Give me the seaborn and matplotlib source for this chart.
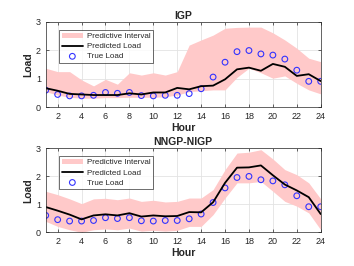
import numpy as np
import pandas as pd
import matplotlib
matplotlib.use("Agg")
import matplotlib.pyplot as plt
import seaborn as sns

hours = np.arange(1, 25)
true_load = [0.60, 0.45, 0.40, 0.40, 0.42, 0.52, 0.49, 0.52, 0.41, 0.40, 0.42, 0.42, 0.48, 0.65,
             1.06, 1.58, 1.95, 1.99, 1.87, 1.83, 1.69, 1.30, 0.91, 0.91]

# IGP
igp_pred = [0.67, 0.58, 0.47, 0.45, 0.43, 0.43, 0.43, 0.49, 0.45, 0.52, 0.52, 0.68, 0.63, 0.74,
            0.76, 0.98, 1.33, 1.39, 1.28, 1.52, 1.42, 1.10, 1.16, 0.92]
igp_up = [1.37, 1.25, 1.25, 0.96, 0.75, 0.98, 0.81, 1.21, 1.13, 1.21, 1.13, 1.25, 2.18, 2.36,
          2.53, 2.77, 2.80, 2.81, 2.81, 2.61, 2.36, 2.07, 1.72, 1.60]
igp_lo = [0.55, 0.43, 0.35, 0.32, 0.32, 0.34, 0.34, 0.35, 0.35, 0.35, 0.37, 0.43, 0.55, 0.58,
          0.61, 0.61, 1.05, 1.37, 1.21, 1.02, 1.10, 0.84, 0.61, 0.47]

# NNGP-NIGP
nn_pred = [0.90, 0.77, 0.63, 0.46, 0.60, 0.64, 0.60, 0.68, 0.56, 0.60, 0.57, 0.58, 0.72, 0.71,
           1.07, 1.76, 2.30, 2.31, 2.38, 2.03, 1.70, 1.49, 1.25, 0.65]
nn_up = [1.46, 1.34, 1.19, 1.02, 1.19, 1.21, 1.16, 1.22, 1.10, 1.14, 1.08, 1.10, 1.22, 1.22,
         1.52, 2.23, 2.82, 2.85, 2.94, 2.61, 2.23, 2.05, 1.76, 1.19]
nn_lo = [0.39, 0.21, 0.09, 0.00, 0.09, 0.12, 0.09, 0.15, 0.04, 0.07, 0.04, 0.07, 0.21, 0.21,
         0.63, 1.22, 1.76, 1.76, 1.81, 1.46, 1.10, 0.93, 0.69, 0.09]

sns.set_style("ticks")
plt.rcParams['font.family'] = ['Liberation Sans', 'DejaVu Sans']

fig = plt.figure(figsize=(3.54, 2.66), dpi=100)
panels = [("IGP", igp_pred, igp_up, igp_lo, [45.7, 21.7, 320.7, 107.3]),
          ("NNGP-NIGP", nn_pred, nn_up, nn_lo, [45.7, 148.0, 320.7, 232.3])]

for title, pred, up, lo, box in panels:
    l, t, r, b = box
    ax = fig.add_axes([l / 354, 1 - b / 266, (r - l) / 354, (b - t) / 266])
    df = pd.DataFrame({"Hour": hours, "pred": pred, "true": true_load})
    ax.fill_between(hours, lo, up, color="#FFC9C9", linewidth=0, label="Predictive Interval")
    sns.lineplot(data=df, x="Hour", y="pred", ax=ax, color="black", linewidth=1.3,
                 label="Predicted Load")
    sns.scatterplot(data=df, x="Hour", y="true", ax=ax, marker="o", s=17,
                    facecolors="none", edgecolor="#3333FF", linewidth=0.8, label="True Load")
    ax.set_xlim(1, 24)
    ax.set_ylim(0, 3)
    ax.set_xticks(range(2, 25, 2))
    ax.set_yticks([0, 1, 2, 3])
    ax.grid(True, color="#E3E3E3", linewidth=0.6)
    ax.set_axisbelow(True)
    ax.tick_params(direction="in", labelsize=6.5, length=2, width=0.5, colors="#262626",
                   top=True, right=True)
    for s in ax.spines.values():
        s.set_linewidth(0.5)
        s.set_color("#262626")
    ax.set_title(title, fontsize=7.5, fontweight="bold", pad=2)
    ax.set_xlabel("Hour", fontsize=7.5, fontweight="bold", labelpad=1)
    ax.set_ylabel("Load", fontsize=7.5, fontweight="bold", labelpad=2)
    leg = ax.legend(loc="upper left", bbox_to_anchor=(0.05, 0.9), fontsize=5.8, frameon=True,
                    fancybox=False, borderpad=0.3, labelspacing=0.3, handlelength=2.6,
                    handletextpad=0.5, borderaxespad=0)
    leg.get_frame().set_edgecolor("black")
    leg.get_frame().set_linewidth(0.5)

fig.savefig("out.png", dpi=100)
